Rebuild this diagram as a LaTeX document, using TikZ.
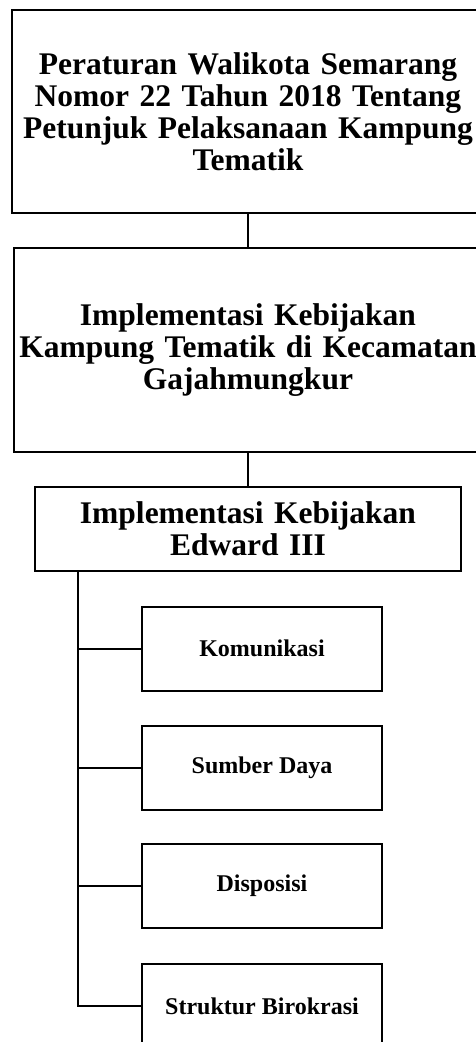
\documentclass[tikz,border=0pt]{standalone}
\usepackage{fontspec}
\setmainfont{Liberation Serif}
\begin{document}
\begin{tikzpicture}[x=1pt,y=-1pt,
  bigbox/.style={draw=black,line width=2pt,rectangle,align=center,inner sep=0pt,
    font=\bfseries\fontsize{31.5}{32}\selectfont},
  smallbox/.style={draw=black,line width=2pt,rectangle,align=center,inner sep=0pt,
    minimum width=240pt,minimum height=84pt,font=\bfseries\fontsize{24}{26}\selectfont},
  conn/.style={draw=black,line width=2pt}]
\useasboundingbox (0,0) rectangle (475,1042);
\node[bigbox,minimum width=472pt,minimum height=203pt,text width=464pt] (b1) at (248,111.5)
  {Peraturan Walikota Semarang\\Nomor 22 Tahun 2018 Tentang\\Petunjuk Pelaksanaan Kampung\\Tematik};
\node[bigbox,minimum width=468pt,minimum height=204pt,text width=464pt] (b2) at (248,350)
  {Implementasi Kebijakan\\Kampung Tematik di Kecamatan\\Gajahmungkur};
\node[bigbox,minimum width=426pt,minimum height=84pt,text width=420pt] (b3) at (248,529)
  {Implementasi Kebijakan\\Edward III};
\node[smallbox] (k) at (262,648.5) {Komunikasi};
\node[smallbox] (s) at (262,767.5) {Sumber Daya};
\node[smallbox] (d) at (262,886) {Disposisi};
\node[smallbox] (sb) at (262,1006) {Struktur Birokrasi};
\coordinate (t0) at (78,571);
\draw[conn] (b1.south) -- (b2.north);
\draw[conn] (b2.south) -- (b3.north);
\draw[conn,line join=miter] (t0) |- (sb.west);
\draw[conn] (t0 |- k.west) -- (k.west);
\draw[conn] (t0 |- s.west) -- (s.west);
\draw[conn] (t0 |- d.west) -- (d.west);
\end{tikzpicture}
\end{document}
